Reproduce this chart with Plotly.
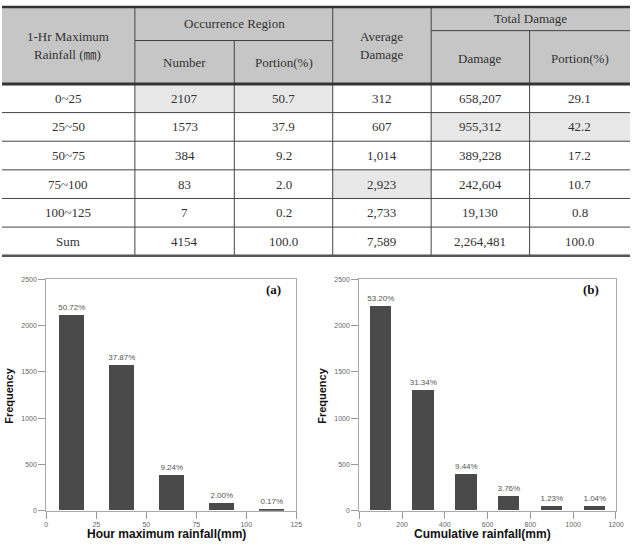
import plotly.graph_objects as go

W, H = 638, 545

# ---------------- data ----------------
rain_bins = ["0~25", "25~50", "50~75", "75~100", "100~125", "Sum"]
occ_number = ["2107", "1573", "384", "83", "7", "4154"]
occ_portion = ["50.7", "37.9", "9.2", "2.0", "0.2", "100.0"]
avg_damage = ["312", "607", "1,014", "2,923", "2,733", "7,589"]
total_damage = ["658,207", "955,312", "389,228", "242,604", "19,130", "2,264,481"]
damage_portion = ["29.1", "42.2", "17.2", "10.7", "0.8", "100.0"]
highlight_cells = [(0, 1), (0, 2), (1, 4), (1, 5), (3, 3)]

hour_bin_centers = [12.5, 37.5, 62.5, 87.5, 112.5]
hour_freq = [2107, 1573, 384, 83, 7]
hour_pct_labels = ["50.72%", "37.87%", "9.24%", "2.00%", "0.17%"]

cum_bin_centers = [100, 300, 500, 700, 900, 1100]
cum_freq = [2210, 1302, 392, 156, 51, 43]
cum_pct_labels = ["53.20%", "31.34%", "9.44%", "3.76%", "1.23%", "1.04%"]

hour_ticks = [0, 25, 50, 75, 100, 125]
cum_ticks = [0, 200, 400, 600, 800, 1000, 1200]
freq_ticks = [0, 500, 1000, 1500, 2000, 2500]


def px(x):
    return x / W


def py(y):
    return 1 - y / H


SERIF = "Liberation Serif, Noto Sans CJK KR, serif"
SANS = "Liberation Sans, Arial, sans-serif"

fig = go.Figure()

# ---------------- histograms ----------------
fig.add_trace(go.Bar(x=hour_bin_centers, y=hour_freq, width=12.5,
                     marker=dict(color="#4a4a4a", line=dict(width=0)),
                     text=hour_pct_labels, textposition="outside", constraintext="none",
                     textfont=dict(size=8, color="#555", family=SANS),
                     cliponaxis=False, xaxis="x", yaxis="y"))
fig.add_trace(go.Bar(x=cum_bin_centers, y=cum_freq, width=100,
                     marker=dict(color="#4a4a4a", line=dict(width=0)),
                     text=cum_pct_labels, textposition="outside", constraintext="none",
                     textfont=dict(size=8, color="#555", family=SANS),
                     cliponaxis=False, xaxis="x2", yaxis="y2"))

axis_common = dict(showgrid=False, zeroline=False, showline=True, linecolor="#aaa",
                   linewidth=1, mirror=True, ticks="outside", ticklen=7,
                   tickcolor="#999", tickfont=dict(size=7, color="#666", family=SANS))

ydom = [py(513.3), py(279)]
fig.update_layout(
    xaxis=dict(domain=[px(45), px(299)], range=[0, 125], tickvals=hour_ticks,
               anchor="y", **axis_common),
    yaxis=dict(domain=ydom, range=[0, 2500], tickvals=freq_ticks, anchor="x",
               **axis_common),
    xaxis2=dict(domain=[px(363), px(623.7)], range=[0, 1200], tickvals=cum_ticks,
                anchor="y2", **axis_common),
    yaxis2=dict(domain=ydom, range=[0, 2500], tickvals=freq_ticks, anchor="x2",
                **axis_common),
)

annotations = []
shapes = []


def label(t, x, y, size, family, angle=0):
    annotations.append(dict(text=t, x=px(x), y=py(y), xref="paper", yref="paper",
                            xanchor="center", yanchor="middle", showarrow=False,
                            textangle=angle,
                            font=dict(size=size, family=family, color="#111")))


# chart titles / labels
label("<b>Hour maximum rainfall(mm)</b>", 167, 537, 12, SANS)
label("<b>Cumulative rainfall(mm)</b>", 488, 537, 12, SANS)
label("<b>Frequency</b>", 7, 396, 11, SANS, -90)
label("<b>Frequency</b>", 325, 396, 11, SANS, -90)
label("<b>(a)</b>", 276, 289, 13, SERIF)
label("<b>(b)</b>", 598, 289, 13, SERIF)

# ---------------- table ----------------
col_edges = [0, 135, 236, 336, 436, 536, 638]
row_edges = [81, 110, 139, 168, 197, 226, 255]
HEAD_TOP = 3
LEFT_SPLIT = 37
RIGHT_SPLIT = 27
HEAD_BG = "#c6c6c6"
HL_BG = "#e8e8e8"
LINE = "#444"


def rect(x0, y0, x1, y1, color):
    shapes.append(dict(type="rect", xref="paper", yref="paper", x0=px(x0), x1=px(x1),
                       y0=py(y1), y1=py(y0), fillcolor=color, line=dict(width=0),
                       layer="below"))


def hline(x0, x1, y, w=1, c=LINE):
    shapes.append(dict(type="line", xref="paper", yref="paper", x0=px(x0), x1=px(x1),
                       y0=py(y), y1=py(y), line=dict(width=w, color=c)))


def vline(x, y0, y1, w=1, c=LINE):
    shapes.append(dict(type="line", xref="paper", yref="paper", x0=px(x), x1=px(x),
                       y0=py(y0), y1=py(y1), line=dict(width=w, color=c)))


def text(t, x, y, size=13):
    annotations.append(dict(text=t, x=px(x), y=py(y), xref="paper", yref="paper",
                            xanchor="center", yanchor="middle", showarrow=False,
                            font=dict(size=size, family=SERIF, color="#333")))


rect(0, HEAD_TOP, W, row_edges[0], HEAD_BG)
for (r, c) in highlight_cells:
    rect(col_edges[c], row_edges[r], col_edges[c + 1], row_edges[r + 1], HL_BG)

# header lines
hline(col_edges[1], col_edges[3], LEFT_SPLIT)
hline(col_edges[4], col_edges[6], RIGHT_SPLIT)
for c in [1, 3, 4]:
    vline(col_edges[c], HEAD_TOP, row_edges[-1])
for c, ys in [(2, LEFT_SPLIT), (5, RIGHT_SPLIT)]:
    vline(col_edges[c], ys, row_edges[-1])
for y in row_edges[1:-1]:
    hline(0, W, y)
hline(0, W, HEAD_TOP, 2.5, "#333")
hline(0, W, row_edges[0], 3, "#333")
hline(0, W, row_edges[-1], 2.5, "#555")

# header text
text("1-Hr Maximum", 67, 33)
text("Rainfall (㎜)", 67, 51)
text("Occurrence Region", 236, 20)
text("Number", 185, 59)
text("Portion(%)", 286, 59)
text("Average", 386, 33)
text("Damage", 386, 51)
text("Total Damage", 537, 15)
text("Damage", 486, 55)
text("Portion(%)", 587, 55)

columns = [rain_bins, occ_number, occ_portion, avg_damage, total_damage, damage_portion]
for c, col in enumerate(columns):
    xc = (col_edges[c] + col_edges[c + 1]) / 2
    for r, v in enumerate(col):
        yc = (row_edges[r] + row_edges[r + 1]) / 2
        text(v, xc, yc)

fig.update_layout(width=W, height=H, margin=dict(l=0, r=0, t=0, b=0),
                  paper_bgcolor="white", plot_bgcolor="white", showlegend=False,
                  annotations=annotations, shapes=shapes, bargap=0)

fig.write_html("out.html")
